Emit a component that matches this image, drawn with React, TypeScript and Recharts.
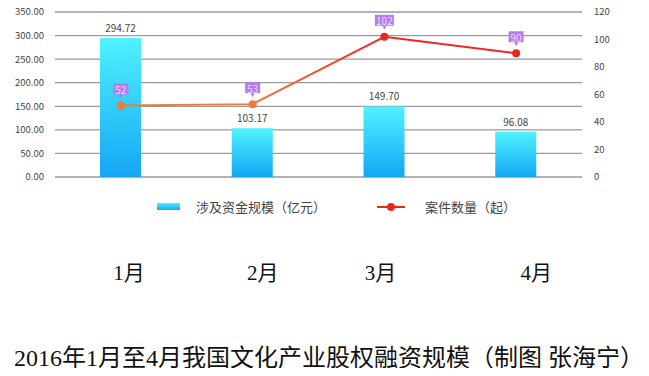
import {
  ComposedChart,
  Bar,
  Line,
  XAxis,
  YAxis,
  CartesianGrid,
  Legend,
  LabelList,
} from 'recharts'

const months = ['1月', '2月', '3月', '4月']
const fundScale = [294.72, 103.17, 149.7, 96.08]
const caseCount = [52, 53, 102, 90]
const leftTicks = [0, 50, 100, 150, 200, 250, 300, 350]
const rightTicks = [0, 20, 40, 60, 80, 100, 120]

const title = '2016年1月至4月我国文化产业股权融资规模（制图 张海宁）'
const barName = '涉及资金规模（亿元）'
const lineName = '案件数量（起）'

const data = months.map((m, i) => ({ month: m, fund: fundScale[i], cases: caseCount[i] }))

const ORANGE = '#F07A38'
const RED = '#E8281E'
const PURPLE = '#B47CF2'
const SANS = "'Noto Sans CJK SC', 'DejaVu Sans', sans-serif"
const SERIF = "'Liberation Serif', 'Noto Sans CJK SC', serif"

// month labels sit well below the plot, a bit off the bar centres
const MONTH_NUDGE = [8, 10, -4, 20]

const MonthTick = (props: any) => {
  const { x, y, payload, index } = props
  return (
    <text
      x={x + (MONTH_NUDGE[index] ?? 0)}
      y={y + 88}
      textAnchor="middle"
      dominantBaseline="central"
      fontSize={21}
      fontFamily={SERIF}
      fill="#111"
    >
      {payload.value}
    </text>
  )
}

const CaseDot = (props: any) => {
  const { cx, cy, index } = props
  return <circle key={index} cx={cx} cy={cy} r={4} fill={index < 2 ? ORANGE : RED} stroke="none" />
}

const CaseLabel = (props: any) => {
  const { x, y, value } = props
  const w = String(value).length > 2 ? 19 : 15
  const h = 11
  const top = y - 22
  return (
    <g>
      <rect x={x - w / 2} y={top} width={w} height={h} fill={PURPLE} />
      <polygon points={`${x - 2},${top + h} ${x + 2},${top + h} ${x},${top + h + 4}`} fill={PURPLE} />
      <text
        x={x}
        y={top + h / 2 + 0.5}
        textAnchor="middle"
        dominantBaseline="central"
        fontSize={10}
        fontFamily={SANS}
        fill="#F4D8FF"
      >
        {value}
      </text>
    </g>
  )
}

const LegendContent = () => (
  <div style={{ position: 'relative', height: 20, fontFamily: SANS, fontSize: 13, color: '#444' }}>
    <div style={{ position: 'absolute', left: 157, top: 6, width: 23, height: 7, background: 'linear-gradient(#4CF0FF, #18A8F5)' }} />
    <div style={{ position: 'absolute', left: 196, top: 0, lineHeight: '20px', whiteSpace: 'nowrap' }}>{barName}</div>
    <svg style={{ position: 'absolute', left: 377, top: 4 }} width={28} height={12}>
      <line x1={0} y1={6} x2={28} y2={6} stroke={RED} strokeWidth={2} />
      <circle cx={14} cy={6} r={4} fill={RED} />
    </svg>
    <div style={{ position: 'absolute', left: 425, top: 0, lineHeight: '20px', whiteSpace: 'nowrap' }}>{lineName}</div>
  </div>
)

export default function App() {
  return (
    <div style={{ position: 'relative', width: 649, height: 376, margin: -8, background: '#fff' }}>
      <ComposedChart
        width={649}
        height={300}
        data={data}
        margin={{ top: 12, right: 0, left: 0, bottom: 93 }}
      >
        <defs>
          <linearGradient id="barFill" x1="0" y1="0" x2="0" y2="1">
            <stop offset="0%" stopColor="#50F2FF" />
            <stop offset="100%" stopColor="#14A6F4" />
          </linearGradient>
          <linearGradient id="lineStroke" x1="0" y1="0" x2="1" y2="0">
            <stop offset="0%" stopColor={ORANGE} />
            <stop offset="33%" stopColor={ORANGE} />
            <stop offset="70%" stopColor={RED} />
            <stop offset="100%" stopColor={RED} />
          </linearGradient>
        </defs>
        <CartesianGrid vertical={false} stroke="#9a9a9a" strokeWidth={1.3} yAxisId="left" />
        <XAxis
          dataKey="month"
          axisLine={false}
          tickLine={false}
          height={30}
          tick={<MonthTick />}
        />
        <YAxis
          yAxisId="left"
          domain={[0, 350]}
          ticks={leftTicks}
          width={55}
          axisLine={false}
          tickLine={false}
          tickMargin={5}
          tickFormatter={(v: number) => v.toFixed(2)}
          tick={{ fontSize: 9.5, fill: '#444', fontFamily: SANS }}
        />
        <YAxis
          yAxisId="right"
          orientation="right"
          domain={[0, 120]}
          ticks={rightTicks}
          width={67}
          axisLine={false}
          tickLine={false}
          tickMargin={6}
          tick={{ fontSize: 9.5, fill: '#444', fontFamily: SANS, textAnchor: 'start' }}
        />
        <Legend
          layout="horizontal"
          verticalAlign="middle"
          align="center"
          content={<LegendContent />}
          wrapperStyle={{ top: 197, left: 0, width: 649 }}
        />
        <Bar
          yAxisId="left"
          dataKey="fund"
          name={barName}
          fill="url(#barFill)"
          barSize={41}
          isAnimationActive={false}
        >
          <LabelList
            dataKey="fund"
            position="top"
            offset={6}
            formatter={(v: any) => Number(v).toFixed(2)}
            style={{ fontSize: 10, fill: '#444', fontFamily: SANS }}
          />
        </Bar>
        <Line
          yAxisId="right"
          dataKey="cases"
          name={lineName}
          stroke="url(#lineStroke)"
          strokeWidth={2}
          dot={<CaseDot />}
          activeDot={false}
          isAnimationActive={false}
        >
          <LabelList dataKey="cases" content={<CaseLabel />} />
        </Line>
      </ComposedChart>
      <div
        style={{
          position: 'absolute',
          left: 14,
          top: 343,
          fontFamily: SERIF,
          fontSize: 24,
          color: '#111',
          whiteSpace: 'nowrap',
          lineHeight: '30px',
        }}
      >
        {title}
      </div>
    </div>
  )
}
